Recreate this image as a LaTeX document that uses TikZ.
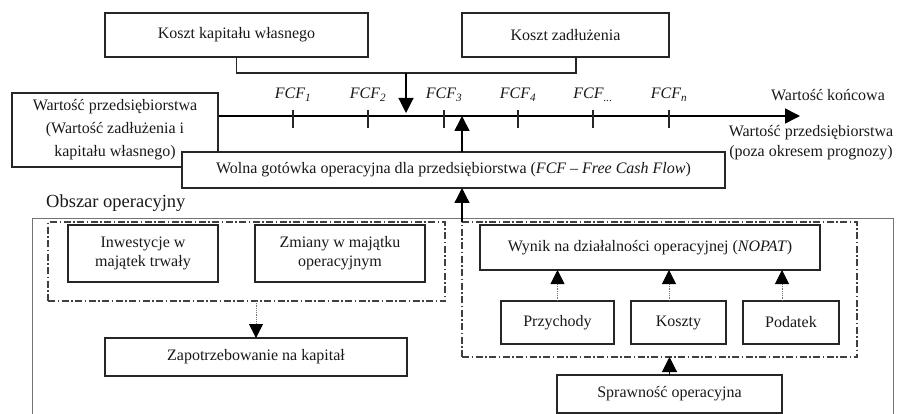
\documentclass[tikz,border=0pt]{standalone}
\usepackage{fontspec}
\setmainfont{Liberation Serif}
\usetikzlibrary{arrows.meta,calc}
\begin{document}
\begin{tikzpicture}[x=1pt,y=-1pt,
  box/.style={draw=black!85, line width=1.2pt, fill=white, text=black!90,
    font=\fontsize{16}{19}\selectfont, inner sep=2pt, outer sep=0pt, align=center},
  lbl/.style={text=black!90, font=\fontsize{16}{20}\selectfont, inner sep=1pt, align=center},
  fcfl/.style={text=black!90, font=\fontsize{16}{20}\selectfont\itshape, inner sep=1pt},
  grp/.style={draw=black!75, line width=1.1pt, inner sep=0pt, outer sep=0pt,
    dash pattern=on 7pt off 2.5pt on 1.5pt off 2.5pt},
  arr/.style={-{Triangle[width=15pt,length=15pt]}, line width=1.6pt, draw=black},
  darr/.style={-{Triangle[width=14pt,length=14pt,color=black]}, draw=black!55,
    line width=0.8pt, densely dotted},
  thin/.style={draw=black!85, line width=1.1pt}
]
\useasboundingbox (0,0) rectangle (899,414);

% top boxes
\node[box, minimum width=263pt, minimum height=44pt] (kk) at (236.5,35) {Koszt kapitału własnego};
\node[box, minimum width=207pt, minimum height=44pt] (kz) at (565.5,35) {Koszt zadłużenia};

% bracket and arrow down
\coordinate (bj) at (406,73);
\coordinate (kzb) at (576,57);
\draw[thin] (kk.south) |- (bj) -| (kzb);

% axis
\coordinate (axs) at (218,116);
\coordinate (axe) at (800,116);
\draw[arr] (axs) -- (axe);
\draw[arr, line width=1.1pt, shorten >=3pt] (bj) -- (bj |- axs);

% ticks and labels
\foreach \x/\n/\s in {293/f1/1, 368/f2/2, 444/f3/3, 518/f4/4, 593/f5/{...}, 669/f6/n}{
  \draw[thin] (\x,110) -- (\x,128);
  \node[fcfl] (\n) at (\x,95) {FCF\textsubscript{\s}};
}

\node[lbl] (wk) at (828,95) {Wartość końcowa};

% left value box
\node[box, minimum width=206pt, minimum height=74pt, font=\fontsize{16}{23}\selectfont] (wp) at (115,130)
  {Wartość przedsiębiorstwa\\(Wartość zadłużenia i\\kapitału własnego)};

% FCF box
\node[box, minimum width=543pt, minimum height=36pt] (fcf) at (453.5,170)
  {Wolna gotówka operacyjna dla przedsiębiorstwa (\textit{FCF – Free Cash Flow})};

\node[lbl] (wpr) at (811,143) {Wartość przedsiębiorstwa\\(poza okresem prognozy)};

% operational area
\node[lbl, anchor=west, font=\fontsize{18.5}{22}\selectfont] (obs) at (45,203) {Obszar operacyjny};
\draw[draw=black!55, line width=0.8pt] (32,416) -- (32,218) -- (893,218) -- (893,416);

% left group
\node[grp, minimum width=397pt, minimum height=79pt] (lg) at (246.5,261.5) {};
\node[box, minimum width=150pt, minimum height=57pt] (inw) at (143,253.5) {Inwestycje w\\majątek trwały};
\node[box, minimum width=170pt, minimum height=57pt] (zm) at (340,253.5) {Zmiany w majątku\\operacyjnym};
\node[box, minimum width=302pt, minimum height=38pt] (zap) at (256,357) {Zapotrzebowanie na kapitał};
\draw[darr] (zap.north |- lg.south) -- (zap.north);

% right group
\node[grp, minimum width=395pt, minimum height=135pt] (rg) at (659.5,289.5) {};
\node[box, minimum width=340pt, minimum height=45pt] (wyn) at (650,247.5) {Wynik na działalności operacyjnej (\textit{NOPAT})};
\node[box, minimum width=113pt, minimum height=43pt] (prz) at (557.5,322.5) {Przychody};
\node[box, minimum width=95pt, minimum height=43pt] (kos) at (678.5,322.5) {Koszty};
\node[box, minimum width=96pt, minimum height=43pt] (pod) at (791,322.5) {Podatek};
\node[box, minimum width=225pt, minimum height=38pt] (spr) at (669.5,394) {Sprawność operacyjna};

\coordinate (ak) at (669,301);
\coordinate (ap) at (782,301);
\draw[darr] (prz.north) -- (prz.north |- wyn.south);
\draw[darr] (ak) -- (ak |- wyn.south);
\draw[darr] (ap) -- (ap |- wyn.south);
\draw[arr, line width=1.1pt] (spr.north) -- (spr.north |- rg.south);

% arrows to FCF and axis
\draw[arr, line width=1.3pt] (rg.north west) -- (rg.north west |- fcf.south);
\draw[arr] (fcf.north -| rg.north west) -- (axs -| rg.north west);
\end{tikzpicture}
\end{document}
